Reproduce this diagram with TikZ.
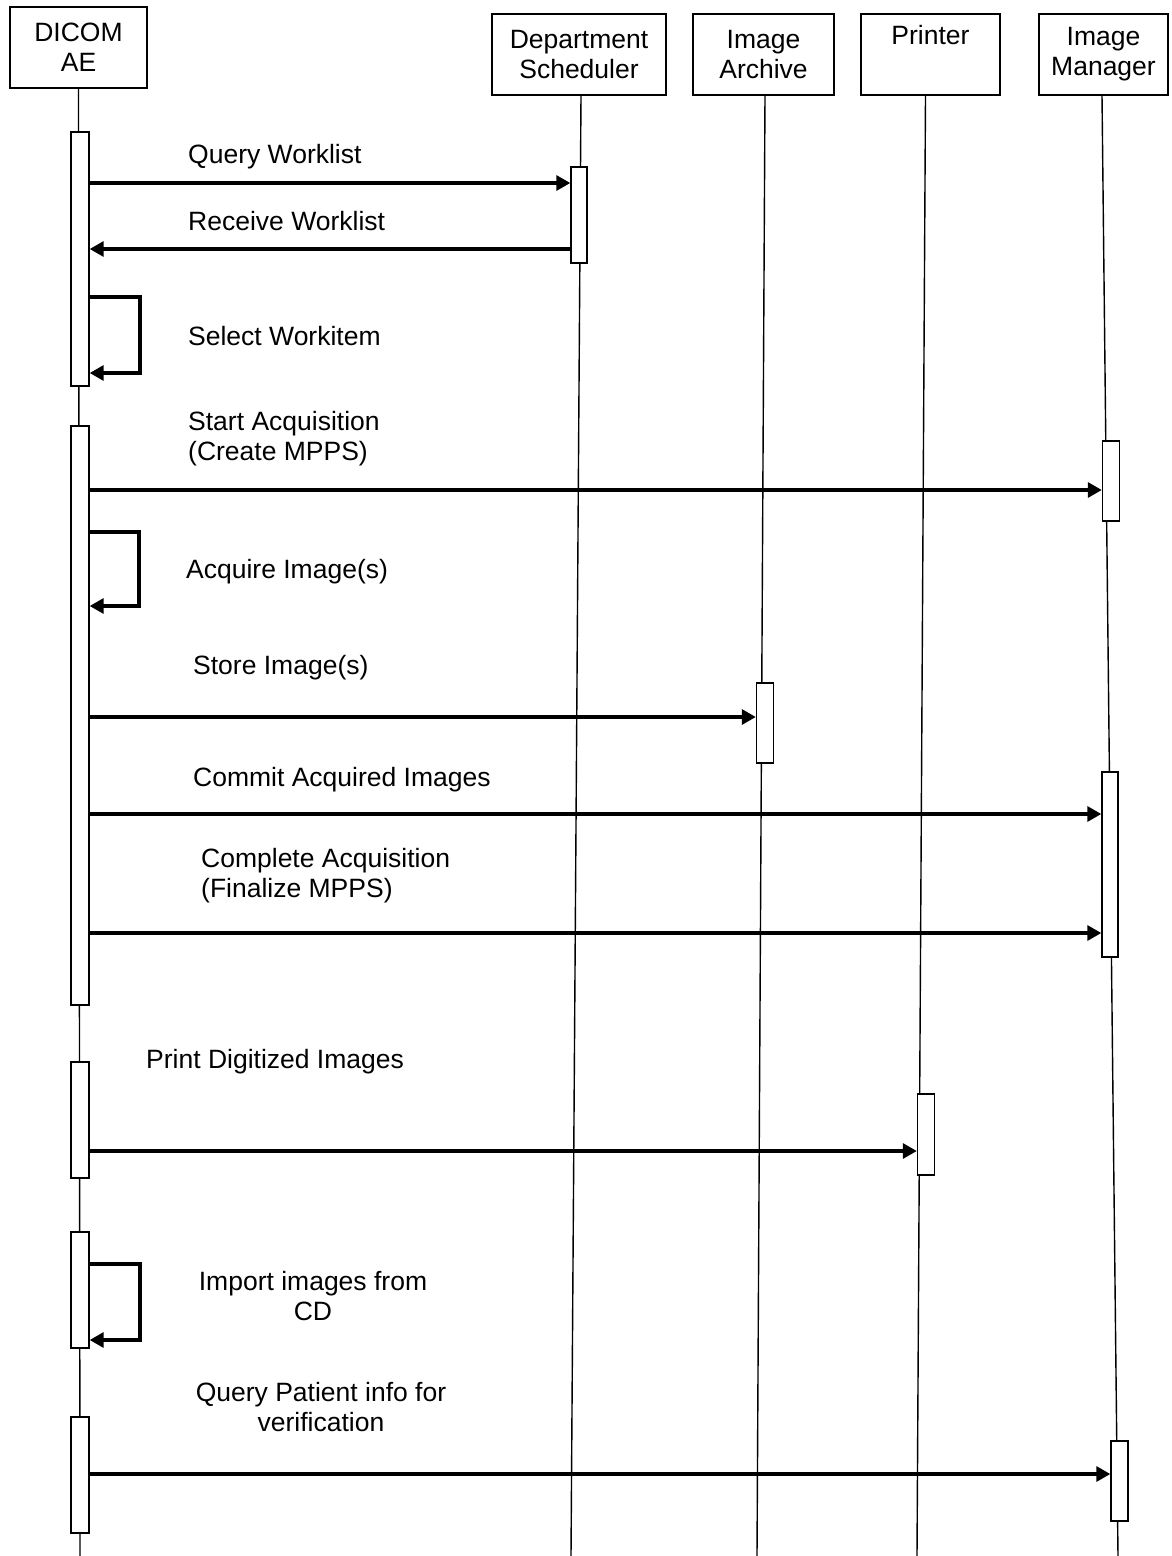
\documentclass[tikz,border=0pt]{standalone}
\usepackage{fontspec}
\setmainfont{Liberation Sans}
\usetikzlibrary{arrows.meta}
\begin{document}
\begin{tikzpicture}[x=1pt,y=-1pt,
  every node/.style={font=\fontsize{26.5}{30}\selectfont, inner sep=0pt},
  hdr/.style={draw, line width=1.4pt, align=center, minimum height=81pt},
  life/.style={line width=1.4pt},
  act/.style={draw, fill=white, line width=1.4pt, minimum width=17pt},
  msg/.style={line width=3.2pt, -{Triangle[length=14pt,width=15pt]}},
  lbl/.style={anchor=west, align=left},
  clbl/.style={align=center}]
\useasboundingbox (0,0) rectangle (1171,1556);

% header boxes
\node[hdr, minimum width=137pt] (ae) at (78.5,47.5) {DICOM\\AE};
\node[hdr, minimum width=174pt] (ds) at (579,54.5) {Department\\Scheduler};
\node[hdr, minimum width=141pt] (ia) at (763.5,54.5) {Image\\Archive};
\node[hdr, minimum width=139pt] (pr) at (930.5,54.5) {Printer\\\strut};
\node[hdr, minimum width=129pt] (im) at (1103.5,54.5) {Image\\Manager};

% lifeline ends
\coordinate (aeb) at (80,1556);
\coordinate (dsb) at (571,1556);
\coordinate (iab) at (757,1556);
\coordinate (prb) at (917,1556);
\coordinate (imb) at (1118,1556);

\draw[life] (ae.south) -- (aeb);
\draw[life] ([xshift=2pt]ds.south) -- (dsb);
\draw[life] ([xshift=1.5pt]ia.south) -- (iab);
\draw[life] ([xshift=-5pt]pr.south) -- (prb);
\draw[life] ([xshift=-1.5pt]im.south) -- (imb);

% activation bars
\node[act, minimum width=18pt, minimum height=254pt] (a1) at (80,259) {};
\node[act, minimum width=18pt, minimum height=579pt] (a2) at (80,715.5) {};
\node[act, minimum width=18pt, minimum height=116pt] (a3) at (80,1120) {};
\node[act, minimum width=18pt, minimum height=116pt] (a4) at (80,1290) {};
\node[act, minimum width=18pt, minimum height=116pt] (a5) at (80,1475) {};
\node[act, minimum width=16pt, minimum height=96pt] (d1) at (579,215) {};
\node[act, minimum height=80pt] (m1) at (1111,481) {};
\node[act, minimum height=80pt] (r1) at (765,723) {};
\node[act, minimum width=16pt, minimum height=185pt] (m2) at (1110,864.5) {};
\node[act, minimum height=81pt] (p1) at (926,1134.5) {};
\node[act, minimum height=80pt] (m3) at (1119.5,1481) {};

% message rows
\coordinate (y1) at (0,183);
\coordinate (y2) at (0,249);
\coordinate (y3) at (0,490);
\coordinate (y4) at (0,717);
\coordinate (y5) at (0,814);
\coordinate (y6) at (0,933);
\coordinate (y7) at (0,1151);
\coordinate (y8) at (0,1474);
\coordinate (L1a) at (140,297);
\coordinate (L1b) at (140,373);
\coordinate (L2a) at (139,532);
\coordinate (L2b) at (139,606);
\coordinate (L3a) at (140,1264);
\coordinate (L3b) at (140,1340);

\draw[msg] (a1.east |- y1) -- (d1.west |- y1);
\draw[msg] (d1.west |- y2) -- (a1.east |- y2);
\draw[msg] (a1.east |- L1a) -- (L1a) -- (L1b) -- (a1.east |- L1b);
\draw[msg] (a2.east |- y3) -- (m1.west |- y3);
\draw[msg] (a2.east |- L2a) -- (L2a) -- (L2b) -- (a2.east |- L2b);
\draw[msg] (a2.east |- y4) -- (r1.west |- y4);
\draw[msg] (a2.east |- y5) -- (m2.west |- y5);
\draw[msg] (a2.east |- y6) -- (m2.west |- y6);
\draw[msg] (a3.east |- y7) -- (p1.west |- y7);
\draw[msg] (a4.east |- L3a) -- (L3a) -- (L3b) -- (a4.east |- L3b);
\draw[msg] (a5.east |- y8) -- (m3.west |- y8);

% labels
\node[lbl] (t1) at (188,157) {Query Worklist};
\node[lbl] (t2) at (188,221) {Receive Worklist};
\node[lbl] (t3) at (188,336) {Select Workitem};
\node[lbl] (t4) at (188,439) {Start Acquisition\\(Create MPPS)};
\node[lbl] (t5) at (186,572) {Acquire Image(s)};
\node[lbl] (t6) at (193,668) {Store Image(s)};
\node[lbl] (t7) at (193,780) {Commit Acquired Images};
\node[lbl] (t8) at (201,875.5) {Complete Acquisition\\(Finalize MPPS)};
\node[lbl] (t9) at (146,1062) {Print Digitized Images};
\node[clbl] (t10) at (313,1296.5) {Import images from\\CD};
\node[clbl] (t11) at (321,1407.5) {Query Patient info for\\verification};
\end{tikzpicture}
\end{document}
